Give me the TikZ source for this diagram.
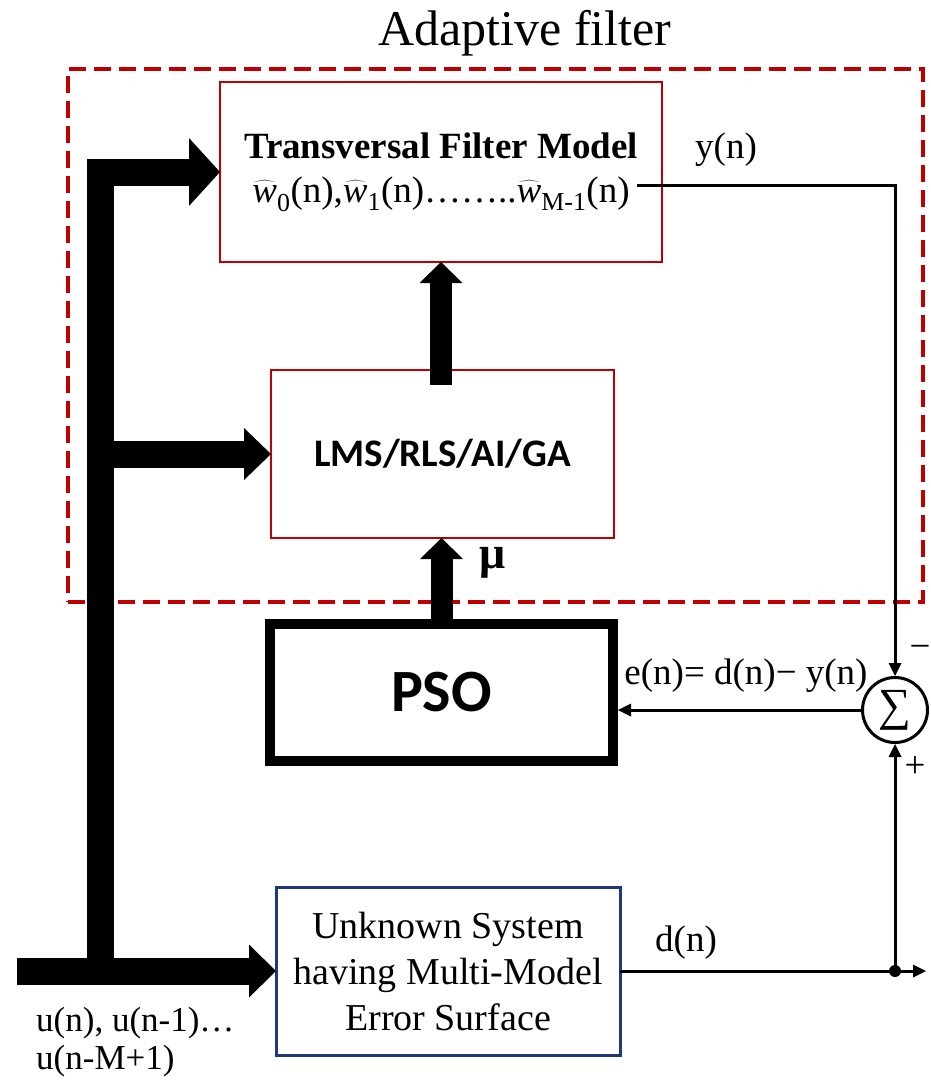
\documentclass[tikz,border=0pt]{standalone}
\usepackage{fontspec}
\usepackage{graphicx}
\setmainfont{Liberation Serif}
\newfontfamily\carlito{Carlito}
\usetikzlibrary{arrows.meta,shapes.geometric}
\definecolor{boxred}{RGB}{192,0,0}
\definecolor{boxblue}{RGB}{30,55,125}
\newcommand{\fs}[1]{\fontsize{#1}{#1}\selectfont}
\newcommand{\hw}{{\ooalign{\textit{w}\cr\hidewidth\scalebox{1.35}[1.08]{$\widehat{\phantom{\textit{w}}}$}\hidewidth\cr}}}
\begin{document}
\begin{tikzpicture}[x=1pt,y=-1pt,
  redbox/.style={draw=boxred,line width=2.5pt,rectangle,inner sep=0pt,outer sep=0pt,align=center},
  bluebox/.style={draw=boxblue,line width=3pt,rectangle,inner sep=0pt,outer sep=0pt,align=center},
  psobox/.style={draw=black,line width=10pt,rectangle,inner sep=0pt,align=center},
  dashbox/.style={draw=boxred,line width=4.5pt,dash pattern=on 17pt off 8pt,rectangle,inner sep=0pt,outer sep=0pt},
  bus/.style={line width=27pt,line join=miter},
  vbus/.style={line width=22pt,-{Triangle[width=43pt,length=21pt,line width=0pt]}},
  sig/.style={line width=3pt,-{Triangle[width=13pt,length=13pt,line width=0pt]}},
  lbl/.style={inner sep=0pt,font=\fs{37}},
]
\useasboundingbox (0,0) rectangle (930,1082);
% adaptive filter frame
\node[dashbox,minimum width=855pt,minimum height=533pt] (af) at (495.5,335.5) {};
\node[inner sep=0pt,font=\fs{50}] (title) at (525,33) {Adaptive filter};
% boxes
\node[redbox,minimum width=442pt,minimum height=180pt,font=\fontsize{37}{44}\selectfont] (tf) at (441,172)
  {\textbf{Transversal Filter Model}\\
   \hw\textsubscript{0}(n),\hw\textsubscript{1}(n)……..\hw\textsubscript{M-1}(n)};
\node[redbox,minimum width=343pt,minimum height=168pt,font={\carlito\bfseries\fs{39}}] (lms) at (442.5,454) {LMS/RLS/AI/GA};
\node[psobox,minimum width=343pt,minimum height=137pt,font={\carlito\bfseries\fs{60}}] (pso) at (441.5,692.5) {PSO};
\node[bluebox,minimum width=344pt,minimum height=168pt,font=\fontsize{38}{46}\selectfont] (us) at (448,971)
  {Unknown System\\having Multi-Model\\Error Surface};
\node[circle,draw,line width=3pt,minimum size=65pt,inner sep=0pt,font=\fs{46}] (sum) at (895,710) {∑};
% bus
\coordinate (uin) at (17,971);
\coordinate (bj) at (100,971);
\coordinate (mj) at (100,454);
\coordinate (tc) at (100,172);
\draw[bus,-{Triangle[width=53pt,length=27pt,line width=0pt]}] (uin) -- (us.west);
\draw[bus,-{Triangle[width=68pt,length=31pt,line width=0pt]}] (bj) -- (tc) -- (tf.west);
\draw[bus,-{Triangle[width=52pt,length=27pt,line width=0pt]}] (mj) -- (lms.west);
% vertical thick arrows
\draw[vbus] ([yshift=-15pt]lms.north -| tf.south) -- (tf.south);
\draw[vbus] (pso.north) -- (lms.south -| pso.north);
\node[inner sep=0pt,font=\bfseries\fs{46}] (mu) at (493,563) {μ};
% signals
\coordinate (yo) at (637,185);
\draw[sig,line join=miter] (yo) -| (sum.north);
\node[lbl] (yl) at (726,150) {y(n)};
\draw[sig] (sum.west) -- (sum.west -| pso.east);
\node[lbl] (el) at (746,676) {e(n)= d(n)− y(n)};
\coordinate (dn) at (895,971);
\coordinate (dend) at (926,971);
\draw[line width=3pt] (us.east) -- (dn);
\draw[sig] (dn) -- (dend);
\draw[sig] (dn) -- (sum.south);
\fill (dn) circle (6pt);
\node[lbl] (dl) at (686,943) {d(n)};
\node[inner sep=0pt,font=\fs{37}] (minus) at (920,652) {−};
\node[inner sep=0pt,font=\fs{37}] (plus) at (915,767) {+};
\node[inner sep=0pt,anchor=north west,align=left,font=\fontsize{35}{38}\selectfont] (ul) at (36,1007) {u(n), u(n-1)…\\u(n-M+1)};
\end{tikzpicture}
\end{document}
